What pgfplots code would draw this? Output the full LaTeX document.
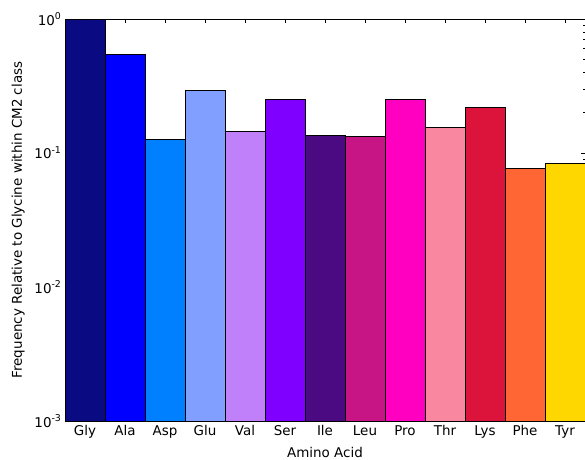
\documentclass[border=0pt]{standalone}
\usepackage{pgfplots}
\pgfplotsset{compat=1.18}
\usepackage{fontspec}
\setmainfont{DejaVu Sans}
\definecolor{cGly}{HTML}{0A0A82}
\definecolor{cAla}{HTML}{0000FF}
\definecolor{cAsp}{HTML}{0080FF}
\definecolor{cGlu}{HTML}{809FFF}
\definecolor{cVal}{HTML}{BF80F9}
\definecolor{cSer}{HTML}{8000FF}
\definecolor{cIle}{HTML}{4B0A82}
\definecolor{cLeu}{HTML}{C71585}
\definecolor{cPro}{HTML}{FF00C0}
\definecolor{cThr}{HTML}{F987A0}
\definecolor{cLys}{HTML}{DC143C}
\definecolor{cPhe}{HTML}{FF6633}
\definecolor{cTyr}{HTML}{FFD700}
\pgfplotsset{mybar/.style={ybar, bar width=1, bar shift=0pt, draw=black, line width=0.8pt, fill=#1}}
\newcommand{\fs}{\fontsize{13.5}{16}\selectfont}
\begin{document}
\begin{tikzpicture}
\path[use as bounding box] (-65bp,-39bp) rectangle (520bp,421bp);
\begin{axis}[
  at={(0,0)}, anchor=south west,
  scale only axis, width=520bp, height=402bp,
  ymode=log, log origin=infty,
  ymin=1e-3, ymax=1,
  xmin=-0.5, xmax=12.5,
  xtick={0,...,12},
  xticklabels={Gly,Ala,Asp,Glu,Val,Ser,Ile,Leu,Pro,Thr,Lys,Phe,Tyr},
  ytick={1e-3,1e-2,1e-1,1},
  yticklabels={10\textsuperscript{-3},10\textsuperscript{-2},10\textsuperscript{-1},10\textsuperscript{0}},
  tick align=inside,
  major tick length=4bp, minor tick length=2bp,
  tick style={black, line width=0.6pt},
  axis line style={black, line width=0.8pt},
  xticklabel style={font=\fs, yshift=-1bp},
  yticklabel style={font=\fs},
  xlabel={Amino Acid},
  ylabel={Frequency Relative to Glycine within CM2 class},
  label style={font=\fs},
  xlabel style={yshift=-2bp},
  ylabel style={yshift=3bp},
]
\addplot[mybar=cGly] coordinates {(0,1.0)};
\addplot[mybar=cAla] coordinates {(1,0.548)};
\addplot[mybar=cAsp] coordinates {(2,0.127)};
\addplot[mybar=cGlu] coordinates {(3,0.295)};
\addplot[mybar=cVal] coordinates {(4,0.146)};
\addplot[mybar=cSer] coordinates {(5,0.253)};
\addplot[mybar=cIle] coordinates {(6,0.136)};
\addplot[mybar=cLeu] coordinates {(7,0.132)};
\addplot[mybar=cPro] coordinates {(8,0.250)};
\addplot[mybar=cThr] coordinates {(9,0.154)};
\addplot[mybar=cLys] coordinates {(10,0.219)};
\addplot[mybar=cPhe] coordinates {(11,0.0764)};
\addplot[mybar=cTyr] coordinates {(12,0.0832)};
\end{axis}
\end{tikzpicture}
\end{document}
